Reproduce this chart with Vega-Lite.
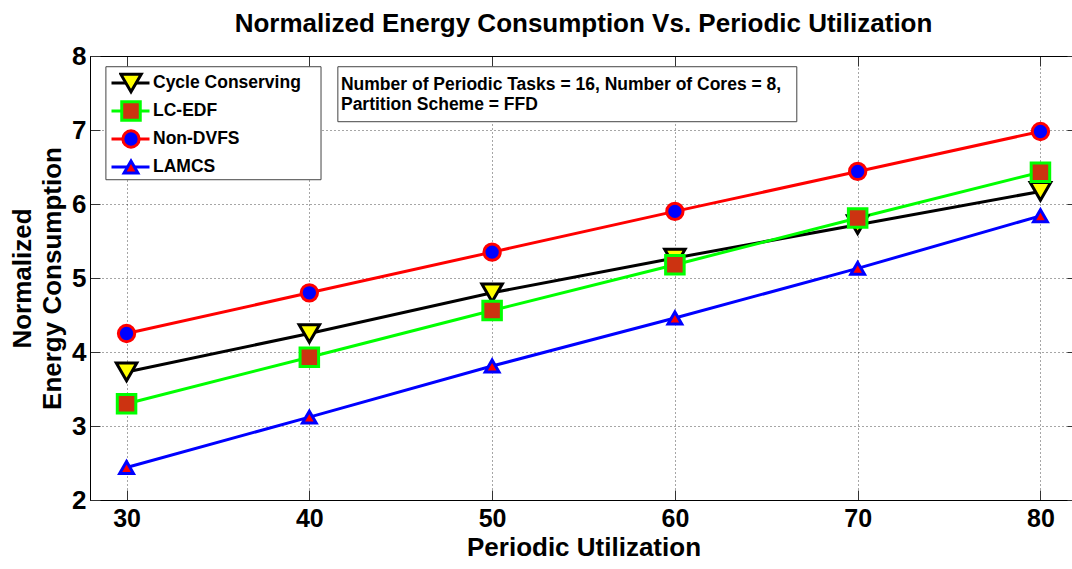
{
  "$schema": "https://vega.github.io/schema/vega-lite/v6.json",
  "width": 987,
  "height": 444,
  "autosize": {"type": "none"},
  "padding": {"left": 90, "top": 56, "right": 0, "bottom": 69},
  "background": "white",
  "title": {"text": "Normalized Energy Consumption Vs. Periodic Utilization", "fontSize": 26, "font": "Liberation Sans", "fontWeight": "bold", "anchor": "middle", "offset": 6, "color": "black"},
  "config": {"view": {"stroke": null}, "font": "Liberation Sans"},
  "data": {"values": [
    {"series": "Cycle Conserving", "u": 30, "e": 3.73},
    {"series": "Cycle Conserving", "u": 40, "e": 4.25},
    {"series": "Cycle Conserving", "u": 50, "e": 4.80},
    {"series": "Cycle Conserving", "u": 60, "e": 5.27},
    {"series": "Cycle Conserving", "u": 70, "e": 5.72},
    {"series": "Cycle Conserving", "u": 80, "e": 6.17},
    {"series": "LC-EDF", "u": 30, "e": 3.30},
    {"series": "LC-EDF", "u": 40, "e": 3.93},
    {"series": "LC-EDF", "u": 50, "e": 4.56},
    {"series": "LC-EDF", "u": 60, "e": 5.18},
    {"series": "LC-EDF", "u": 70, "e": 5.81},
    {"series": "LC-EDF", "u": 80, "e": 6.43},
    {"series": "Non-DVFS", "u": 30, "e": 4.25},
    {"series": "Non-DVFS", "u": 40, "e": 4.80},
    {"series": "Non-DVFS", "u": 50, "e": 5.35},
    {"series": "Non-DVFS", "u": 60, "e": 5.90},
    {"series": "Non-DVFS", "u": 70, "e": 6.44},
    {"series": "Non-DVFS", "u": 80, "e": 6.98},
    {"series": "LAMCS", "u": 30, "e": 2.44},
    {"series": "LAMCS", "u": 40, "e": 3.12},
    {"series": "LAMCS", "u": 50, "e": 3.81},
    {"series": "LAMCS", "u": 60, "e": 4.46},
    {"series": "LAMCS", "u": 70, "e": 5.13},
    {"series": "LAMCS", "u": 80, "e": 5.84}
  ]},
  "resolve": {"axis": {"x": "independent", "y": "independent"}},
  "layer": [
    {
      "mark": {"type": "line", "strokeWidth": 3},
      "encoding": {
        "x": {"field": "u", "type": "quantitative", "scale": {"domain": [28, 82], "nice": false, "zero": false},
          "axis": {"orient": "bottom", "values": [30, 40, 50, 60, 70, 80], "title": "Periodic Utilization", "grid": true, "gridDash": [1, 3], "gridColor": "#000", "gridOpacity": 0.7, "tickSize": -10, "tickColor": "#333", "domainColor": "#000", "labelFont": "Liberation Sans", "labelFontSize": 25, "labelFontWeight": "bold", "labelColor": "#000", "labelPadding": 16, "titleFont": "Liberation Sans", "titleFontSize": 26, "titleFontWeight": "bold", "titleColor": "#000", "titlePadding": 3}},
        "y": {"field": "e", "type": "quantitative", "scale": {"domain": [2, 8], "nice": false, "zero": false},
          "axis": {"orient": "left", "values": [2, 3, 4, 5, 6, 7, 8], "title": ["Normalized", "Energy Consumption"], "grid": true, "gridDash": [1, 3], "gridColor": "#000", "gridOpacity": 0.7, "tickSize": -10, "tickColor": "#333", "domainColor": "#000", "labelFont": "Liberation Sans", "labelFontSize": 26, "labelFontWeight": "bold", "labelColor": "#000", "labelPadding": 14, "titleFont": "Liberation Sans", "titleFontSize": 26, "titleFontWeight": "bold", "titleColor": "#000", "titleLineHeight": 30, "titlePadding": 6}},
        "color": {"field": "series", "type": "nominal",
          "scale": {"domain": ["Cycle Conserving", "LC-EDF", "Non-DVFS", "LAMCS", "none"], "range": ["#000000", "#00ff00", "#ff0000", "#0000ff", "#ffffff"]},
          "legend": {"values": ["Cycle Conserving", "LC-EDF", "Non-DVFS", "LAMCS"], "orient": "none", "legendX": 20, "legendY": 13.4, "title": null, "symbolType": "stroke", "symbolSize": 1444, "symbolStrokeWidth": 3, "padding": 0, "clipHeight": 27.2, "rowPadding": 0, "labelOffset": 2, "labelFont": "Liberation Sans", "labelFontSize": 17.5, "labelFontWeight": "bold", "labelColor": "#000"}}
      }
    },
    {
      "mark": {"type": "point", "filled": true, "strokeWidth": 3, "opacity": 1},
      "encoding": {
        "x": {"field": "u", "type": "quantitative", "scale": {"domain": [28, 82], "nice": false, "zero": false},
          "axis": {"orient": "top", "values": [30, 40, 50, 60, 70, 80], "labels": false, "title": null, "grid": false, "tickSize": -10, "tickColor": "#333", "domainColor": "#000"}},
        "y": {"field": "e", "type": "quantitative", "scale": {"domain": [2, 8], "nice": false, "zero": false},
          "axis": {"orient": "right", "values": [2, 3, 4, 5, 6, 7, 8], "labels": false, "title": null, "grid": false, "tickSize": -10, "tickColor": "#333", "domainColor": "#000"}},
        "stroke": {"field": "series", "type": "nominal",
          "scale": {"domain": ["Cycle Conserving", "LC-EDF", "Non-DVFS", "LAMCS"], "range": ["#000000", "#00ff00", "#ff0000", "#0000ff"]},
          "legend": {"orient": "none", "legendX": 29, "legendY": 13.4, "title": null, "padding": 0, "clipHeight": 27.2, "rowPadding": 0, "labelExpr": "''", "symbolStrokeWidth": 3}},
        "fill": {"field": "series", "type": "nominal",
          "scale": {"domain": ["Cycle Conserving", "LC-EDF", "Non-DVFS", "LAMCS"], "range": ["#ffff00", "#cc3311", "#0000ff", "#ff0000"]},
          "legend": {"orient": "none", "legendX": 29, "legendY": 13.4, "title": null, "padding": 0, "clipHeight": 27.2, "rowPadding": 0, "labelExpr": "''", "symbolStrokeWidth": 3}},
        "shape": {"field": "series", "type": "nominal",
          "scale": {"domain": ["Cycle Conserving", "LC-EDF", "Non-DVFS", "LAMCS"], "range": ["triangle-down", "square", "circle", "triangle-up"]},
          "legend": {"orient": "none", "legendX": 29, "legendY": 13.4, "title": null, "padding": 0, "clipHeight": 27.2, "rowPadding": 0, "labelExpr": "''", "symbolStrokeWidth": 3}},
        "size": {"field": "series", "type": "ordinal",
          "scale": {"domain": ["Cycle Conserving", "LC-EDF", "Non-DVFS", "LAMCS"], "range": [420, 190, 250, 420]},
          "legend": {"orient": "none", "legendX": 29, "legendY": 13.4, "title": null, "padding": 0, "clipHeight": 27.2, "rowPadding": 0, "labelExpr": "''", "symbolStrokeWidth": 3}}
      }
    },
    {
      "data": {"values": [{}]},
      "mark": {"type": "rect", "fill": "white", "stroke": "#444", "strokeWidth": 1},
      "encoding": {
        "x": {"datum": 28.87, "type": "quantitative", "scale": {"domain": [28, 82], "nice": false, "zero": false}, "axis": null},
        "x2": {"datum": 40.64},
        "y": {"datum": 7.855, "type": "quantitative", "scale": {"domain": [2, 8], "nice": false, "zero": false}, "axis": null},
        "y2": {"datum": 6.328}
      }
    },
    {
      "data": {"values": [{}]},
      "mark": {"type": "rect", "fill": "white", "stroke": "#444", "strokeWidth": 1},
      "encoding": {
        "x": {"datum": 41.56, "type": "quantitative", "scale": {"domain": [28, 82], "nice": false, "zero": false}, "axis": null},
        "x2": {"datum": 66.67},
        "y": {"datum": 7.855, "type": "quantitative", "scale": {"domain": [2, 8], "nice": false, "zero": false}, "axis": null},
        "y2": {"datum": 7.112}
      }
    },
    {
      "data": {"values": [{}]},
      "mark": {"type": "text", "align": "left", "baseline": "alphabetic", "font": "Liberation Sans", "fontSize": 17.5, "fontWeight": "bold", "lineHeight": 20, "color": "#000"},
      "encoding": {
        "x": {"datum": 41.73, "type": "quantitative", "scale": {"domain": [28, 82], "nice": false, "zero": false}, "axis": null},
        "y": {"datum": 7.535, "type": "quantitative", "scale": {"domain": [2, 8], "nice": false, "zero": false}, "axis": null},
        "text": {"value": ["Number of Periodic Tasks = 16, Number of Cores = 8,", "Partition Scheme = FFD"]}
      }
    }
  ]
}
